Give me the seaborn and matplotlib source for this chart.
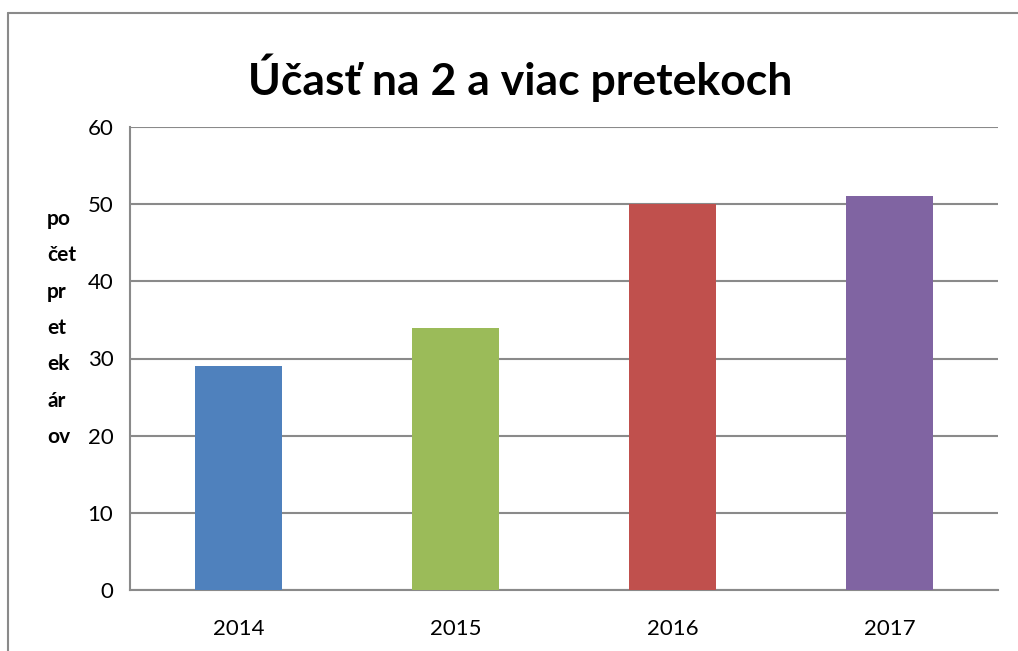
import matplotlib
matplotlib.use("Agg")
import matplotlib.pyplot as plt
from matplotlib.lines import Line2D
import seaborn as sns
import pandas as pd

# chart data
years = ["2014", "2015", "2016", "2017"]
counts = [29, 34, 50, 51]
bar_colors = ["#4F81BD", "#9BBB59", "#C0504D", "#8064A2"]

title = "Účasť na 2 a viac pretekoch"
ylabel_lines = ["po", "čet", "pr", "et", "ek", "ár", "ov"]

sns.set_style("white")
plt.rcParams["font.family"] = ["Lato", "DejaVu Sans"]
plt.rcParams["text.color"] = "black"
plt.rcParams["xtick.color"] = "black"
plt.rcParams["ytick.color"] = "black"

df = pd.DataFrame({"year": years, "count": counts})

fig = plt.figure(figsize=(10.18, 6.51), dpi=100)
ax = fig.add_axes([130 / 1018, 61 / 651, 868 / 1018, 463 / 651])

sns.barplot(data=df, x="year", y="count", hue="year", palette=bar_colors,
            width=0.4, legend=False, saturation=1, linewidth=0, ax=ax, zorder=3)

ax.set_ylim(0, 60)
ax.set_yticks(range(0, 61, 10))
ax.set_xlim(-0.5, len(years) - 0.5)
ax.yaxis.grid(True, color="#8a8a8a", linewidth=1.5, zorder=0)
ax.set_axisbelow(True)
ax.set_xlabel("")
ax.set_ylabel("")

# x ticks sit on category boundaries, labels in the middle
ax.set_xticks([i - 0.5 for i in range(len(years) + 1)], minor=False)
ax.set_xticklabels([""] * (len(years) + 1))
ax.set_xticks(range(len(years)), minor=True)
ax.set_xticklabels(years, minor=True)
ax.tick_params(axis="x", which="major", length=8, width=1.2, color="#8a8a8a", direction="out")
ax.tick_params(axis="x", which="minor", length=0, pad=21, labelsize=16, labelcolor="black")
ax.tick_params(axis="y", length=7, width=1.2, color="#8a8a8a", direction="out",
               labelsize=16, pad=5, labelcolor="black")

for side in ["top", "right"]:
    ax.spines[side].set_visible(False)
for side in ["left", "bottom"]:
    ax.spines[side].set_color("#8a8a8a")
    ax.spines[side].set_linewidth(1.5)

fig.text(520 / 1018, 1 - 78 / 651, title, ha="center", va="center",
         fontsize=32, fontweight="bold", color="black")
fig.text(47 / 1018, 1 - 328 / 651, "\n".join(ylabel_lines), ha="left", va="center",
         fontsize=15, fontweight="bold", linespacing=2.03, color="black")

# outer chart frame
fig.add_artist(Line2D([8 / 1018, 8 / 1018], [0, 1 - 13 / 651], color="#8a8a8a", linewidth=1.5))
fig.add_artist(Line2D([8 / 1018, 1], [1 - 13 / 651, 1 - 13 / 651], color="#8a8a8a", linewidth=1.5))

fig.savefig("out.png", dpi=100)
